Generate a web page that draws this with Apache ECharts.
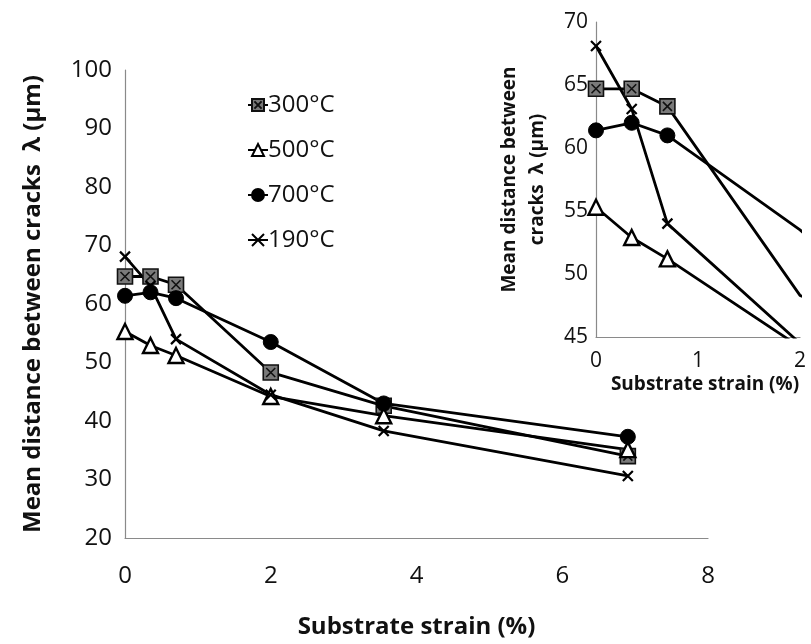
<!DOCTYPE html>
<html><head><meta charset="utf-8">
<script src="https://cdn.jsdelivr.net/npm/echarts@6/dist/echarts.min.js"></script>
<style>html,body{margin:0;padding:0;background:#fff}#c{width:811px;height:644px}</style>
</head><body><div id="c"></div>
<script>
const strain = [0, 0.35, 0.7, 2.0, 3.55, 6.9];
const s300 = [64.7, 64.7, 63.3, 48.3, 42.6, 34.0];
const s500 = [55.3, 52.9, 51.2, 44.2, 40.9, 35.1];
const s700 = [61.4, 62.0, 61.0, 53.5, 43.0, 37.3];
const s190 = [68.1, 63.1, 54.0, 44.5, 38.3, 30.6];
const names = ['300°C', '500°C', '700°C', '190°C'];
const mainXTicks = {min: 0, max: 8, interval: 2};
const mainYTicks = {min: 20, max: 100, interval: 10};
const insetXTicks = {min: 0, max: 2, interval: 1};
const insetYTicks = {min: 45, max: 70, interval: 5};

const pair = arr => strain.map((x, i) => [x, arr[i]]);
const FONT = '"Open Sans", "DejaVu Sans", sans-serif';
const symSquareX = 'path://M0,0L10,0L10,10L0,10Z M2,2L8,8 M8,2L2,8';
const symX = 'path://M0,0L10,10 M10,0L0,10';

function mkSeries(idx, xMax) {
  const sz = s => (v => (v[0] >= xMax ? 0 : s));
  const common = {type: 'line', xAxisIndex: idx, yAxisIndex: idx, clip: true,
    lineStyle: {color: '#000', width: 2.8}, z: 3};
  return [
    Object.assign({}, common, {name: names[0], data: pair(s300), symbol: symSquareX, symbolSize: sz(15),
      itemStyle: {color: '#7a7a7a', borderColor: '#111', borderWidth: 1.6}}),
    Object.assign({}, common, {name: names[1], data: pair(s500), symbol: 'triangle', symbolSize: sz(15),
      itemStyle: {color: '#fff', borderColor: '#000', borderWidth: 2.4}}),
    Object.assign({}, common, {name: names[2], data: pair(s700), symbol: 'circle', symbolSize: sz(15),
      itemStyle: {color: '#000', borderColor: '#000', borderWidth: 1}}),
    Object.assign({}, common, {name: names[3], data: pair(s190), symbol: symX, symbolSize: sz(10),
      itemStyle: {color: '#000', borderColor: '#000', borderWidth: 2.2}})
  ];
}

const axisLine = {show: true, lineStyle: {color: '#8a8a8a', width: 1.2}};
const chart = echarts.init(document.getElementById('c'), null, {renderer: 'canvas'});
chart.setOption({
  animation: false,
  backgroundColor: '#fff',
  textStyle: {fontFamily: FONT},
  legend: {
    orient: 'vertical', left: 242, top: 88, itemGap: 21, itemWidth: 20, itemHeight: 15,
    data: names,
    textStyle: {fontFamily: FONT, fontSize: 24, color: '#111', padding: [0, 0, 0, -5]}
  },
  grid: [
    {left: 125, right: 103, top: 70, bottom: 104, containLabel: false},
    {left: 596, right: 11, top: 22, bottom: 307, containLabel: false}
  ],
  xAxis: [
    Object.assign({type: 'value', gridIndex: 0}, mainXTicks, {
      axisLine, axisTick: {show: false}, splitLine: {show: false},
      axisLabel: {fontSize: 24, color: '#111', margin: 26, fontFamily: FONT},
      name: 'Substrate strain (%)', nameLocation: 'middle', nameGap: 77,
      nameTextStyle: {fontSize: 24, fontWeight: 'bold', color: '#111', fontFamily: FONT}
    }),
    Object.assign({type: 'value', gridIndex: 1}, insetXTicks, {
      axisLine, axisTick: {show: false}, splitLine: {show: false},
      axisLabel: {fontSize: 21, color: '#111', margin: 14, fontFamily: FONT},
      name: 'Substrate strain (%)', nameLocation: 'middle', nameGap: 38,
      nameTextStyle: {fontSize: 19, fontWeight: 'bold', color: '#111', fontFamily: FONT, padding: [0, 0, 0, 14]}
    })
  ],
  yAxis: [
    Object.assign({type: 'value', gridIndex: 0}, mainYTicks, {
      axisLine, axisTick: {show: false}, splitLine: {show: false},
      axisLabel: {fontSize: 24, color: '#111', margin: 13, fontFamily: FONT},
      name: 'Mean distance between cracks  λ (µm)', nameLocation: 'middle', nameGap: 80,
      nameTextStyle: {fontSize: 24, fontWeight: 'bold', color: '#111', fontFamily: FONT}
    }),
    Object.assign({type: 'value', gridIndex: 1}, insetYTicks, {
      axisLine, axisTick: {show: false}, splitLine: {show: false},
      axisLabel: {fontSize: 21, color: '#111', margin: 8, fontFamily: FONT},
      name: 'Mean distance between\ncracks  λ (µm)', nameLocation: 'middle', nameGap: 44,
      nameTextStyle: {fontSize: 19, fontWeight: 'bold', color: '#111', fontFamily: FONT, lineHeight: 28}
    })
  ],
  series: mkSeries(0, 100).concat(mkSeries(1, 2))
});
</script>
</body></html>
